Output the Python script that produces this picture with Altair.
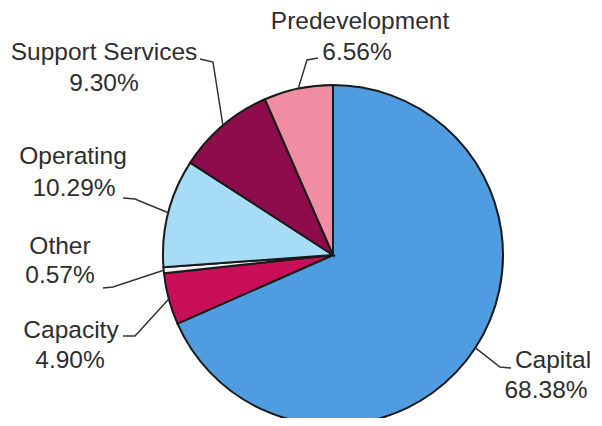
import math
import altair as alt
import pandas as pd

# ---- data ----
categories = ["Capital", "Capacity", "Other", "Operating", "Support Services", "Predevelopment"]
shares = [68.38, 4.90, 0.57, 10.29, 9.30, 6.56]
pct_labels = ["68.38%", "4.90%", "0.57%", "10.29%", "9.30%", "6.56%"]
colors = ["#4f9de0", "#c80f58", "#f2f2f2", "#a6dcf5", "#8e0c4c", "#f08da2"]

# ---- layout (page pixel coordinates, shifted by the 8px margin) ----
CX, CY, R = 325, 247, 170
OFF = 8
name_xy = [(553, 361), (71, 331), (60, 247), (73, 157), (104, 53), (360, 22)]
pct_xy = [(546, 391), (70, 361), (60, 276), (74, 189), (104, 84), (357, 53)]
leader_elbow = [(500, 367), (135, 336), (113, 287), (135, 199), (213, 62), (307, 60)]
leader_end = [(511, 368), (123, 336), (103, 288), (123, 198), (200, 59), (318, 58)]

df = pd.DataFrame({"category": categories, "share": shares, "order": list(range(len(categories)))})

rows = []
for i, c in enumerate(categories):
    rows.append({"text": c, "x": name_xy[i][0] - OFF, "y": name_xy[i][1] - OFF})
    rows.append({"text": pct_labels[i], "x": pct_xy[i][0] - OFF, "y": pct_xy[i][1] - OFF})
tdf = pd.DataFrame(rows)

total = sum(shares)
lrows = []
cum = 0.0
for i, c in enumerate(categories):
    mid = (cum + shares[i] / 2) / total * 2 * math.pi
    cum += shares[i]
    ex = CX + R * math.sin(mid)
    ey = CY - R * math.cos(mid)
    pts = [(ex, ey),
           (leader_elbow[i][0] - OFF, leader_elbow[i][1] - OFF),
           (leader_end[i][0] - OFF, leader_end[i][1] - OFF)]
    for k, (px, py) in enumerate(pts):
        lrows.append({"category": c, "k": k, "x": px, "y": py})
ldf = pd.DataFrame(lrows)

pie = alt.Chart(df).mark_arc(outerRadius=R, stroke="#1a1a1a", strokeWidth=2).encode(
    theta=alt.Theta("share:Q", stack=True),
    order=alt.Order("order:Q"),
    color=alt.Color("category:N", scale=alt.Scale(domain=categories, range=colors), legend=None),
    x=alt.value(CX),
    y=alt.value(CY),
)

leaders = alt.Chart(ldf).mark_line(color="#333333", strokeWidth=1.5).encode(
    x=alt.X("x:Q", scale=None),
    y=alt.Y("y:Q", scale=None),
    detail="category:N",
    order="k:Q",
)

texts = alt.Chart(tdf).mark_text(
    font="Liberation Sans", fontSize=24.5, color="#2e2e2e", align="center", baseline="middle"
).encode(
    x=alt.X("x:Q", scale=None),
    y=alt.Y("y:Q", scale=None),
    text="text:N",
)

chart = alt.layer(pie, leaders, texts).properties(
    width=586, height=410, autosize="none", padding=0, background="white"
).configure_view(stroke=None)

chart.save("out.html", embed_options={"renderer": "svg", "actions": False})
